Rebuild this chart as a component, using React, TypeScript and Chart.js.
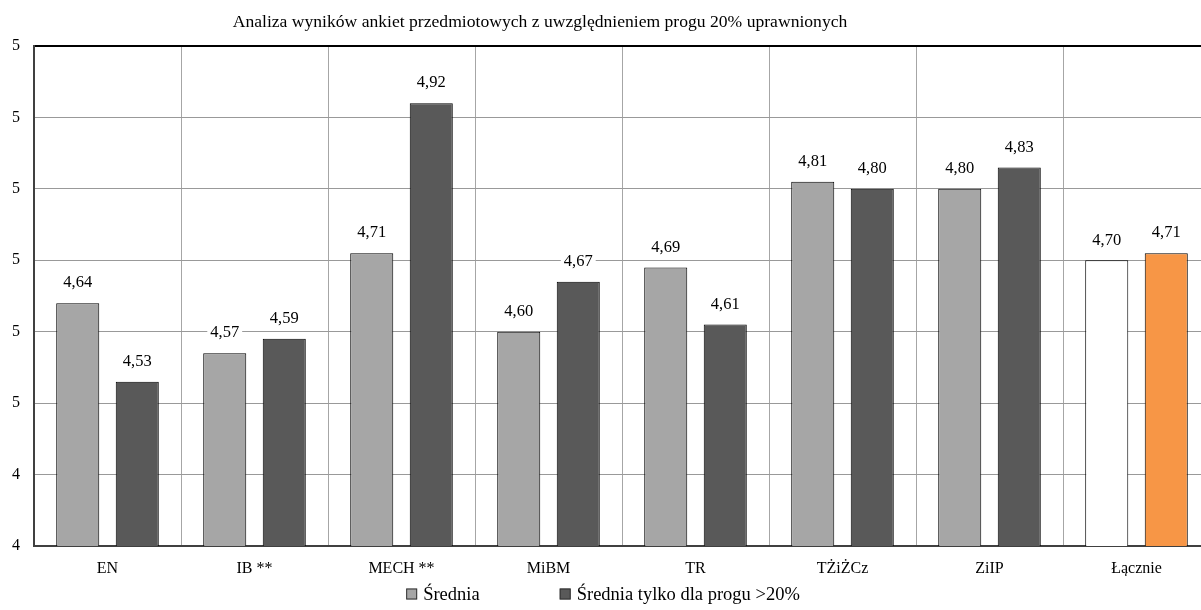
import React, { useEffect, useRef } from "react";
import { Chart, registerables } from "chart.js";

Chart.register(...registerables);

const TITLE = "Analiza wyników ankiet przedmiotowych z uwzględnieniem progu 20% uprawnionych";
const categories = ["EN", "IB **", "MECH **", "MiBM", "TR", "TŻiŻCz", "ZiIP", "Łącznie"];
const sredniaValues = [4.64, 4.57, 4.71, 4.6, 4.69, 4.81, 4.8, 4.7];
const progValues = [4.53, 4.59, 4.92, 4.67, 4.61, 4.8, 4.83, 4.71];
const seriesLabels = ["Średnia", "Średnia tylko dla progu >20%"];
const yMin = 4.3;
const yMax = 5.0;
const yStep = 0.1;

const FONT = "'Liberation Serif', 'Times New Roman', serif";
const LIGHT = "#A6A6A6";
const DARK = "#595959";
const TOTAL_A = "#FFFFFF";
const TOTAL_B = "#F79646";

const CANVAS_W = 1210;
const CANVAS_H = 610;

const titlePlugin = {
  id: "customTitle",
  afterDraw(chart: any) {
    const ctx = chart.ctx;
    ctx.save();
    ctx.font = `17.6px ${FONT}`;
    ctx.fillStyle = "#000";
    ctx.textAlign = "center";
    ctx.textBaseline = "middle";
    ctx.fillText(TITLE, 540, 22);
    ctx.restore();
  },
};

const dataLabelPlugin = {
  id: "dataLabels",
  afterDatasetsDraw(chart: any) {
    const ctx = chart.ctx;
    ctx.save();
    ctx.font = `16.5px ${FONT}`;
    ctx.textAlign = "center";
    ctx.textBaseline = "middle";
    chart.data.datasets.forEach((ds: any, di: number) => {
      const meta = chart.getDatasetMeta(di);
      meta.data.forEach((el: any, i: number) => {
        const txt = Number(ds.data[i]).toFixed(2).replace(".", ",");
        const w = ctx.measureText(txt).width;
        const y = el.y - 20;
        ctx.fillStyle = "#FFFFFF";
        ctx.fillRect(el.x - w / 2 - 3, y - 9, w + 6, 18);
        ctx.fillStyle = "#000";
        ctx.fillText(txt, el.x, y);
      });
    });
    ctx.restore();
  },
};

const legendPlugin = {
  id: "customLegend",
  afterDraw(chart: any) {
    const ctx = chart.ctx;
    const colors = [LIGHT, DARK];
    const box = 11;
    const gapText = 6;
    const gapItems = 80;
    ctx.save();
    ctx.font = `18.5px ${FONT}`;
    ctx.textBaseline = "middle";
    ctx.textAlign = "left";
    const widths = seriesLabels.map((l) => box + gapText + ctx.measureText(l).width);
    const total = widths.reduce((a, b) => a + b, 0) + gapItems * (seriesLabels.length - 1);
    let x = 603 - total / 2;
    const y = 594;
    seriesLabels.forEach((l, i) => {
      ctx.fillStyle = colors[i];
      ctx.fillRect(x, y - box / 2, box, box);
      ctx.strokeStyle = "#333";
      ctx.lineWidth = 1;
      ctx.strokeRect(x + 0.5, y - box / 2 + 0.5, box - 1, box - 1);
      ctx.fillStyle = "#000";
      ctx.fillText(l, x + box + gapText, y + 1);
      x += widths[i] + gapItems;
    });
    ctx.restore();
  },
};

export default function App() {
  const canvasRef = useRef<HTMLCanvasElement | null>(null);

  useEffect(() => {
    const canvas = canvasRef.current;
    if (!canvas) return;
    const last = categories.length - 1;
    const chart = new Chart(canvas, {
      type: "bar",
      data: {
        labels: categories,
        datasets: [
          {
            label: seriesLabels[0],
            data: sredniaValues,
            backgroundColor: categories.map((_, i) => (i === last ? TOTAL_A : LIGHT)),
            borderColor: "#000",
            borderWidth: 1,
            categoryPercentage: 0.81,
            barPercentage: 0.723,
          },
          {
            label: seriesLabels[1],
            data: progValues,
            backgroundColor: categories.map((_, i) => (i === last ? TOTAL_B : DARK)),
            borderColor: "#000",
            borderWidth: 1,
            categoryPercentage: 0.81,
            barPercentage: 0.723,
          },
        ],
      },
      options: {
        responsive: false,
        animation: false,
        devicePixelRatio: 1,
        layout: { padding: { top: 46, bottom: 34, left: 0, right: 0 } },
        plugins: {
          legend: { display: false },
          title: { display: false },
          tooltip: { enabled: false },
        },
        scales: {
          x: {
            grid: { color: "#A6A6A6", lineWidth: 1, drawTicks: false, offset: true },
            border: { color: "#404040", width: 2 },
            ticks: { color: "#000", font: { family: FONT, size: 16 }, padding: 13 },
            afterFit: (scale: any) => {
              scale.height = 30;
            },
          },
          y: {
            min: yMin,
            max: yMax,
            grid: {
              color: (c: any) => (c.tick && Math.abs(c.tick.value - yMax) < 1e-6 ? "#000" : "#999999"),
              lineWidth: (c: any) => (c.tick && Math.abs(c.tick.value - yMax) < 1e-6 ? 2 : 1),
              drawTicks: false,
            },
            border: { color: "#404040", width: 2 },
            ticks: {
              stepSize: yStep,
              color: "#000",
              font: { family: FONT, size: 16 },
              padding: 14,
              callback: (v: any) => String(Math.round(Number(v))),
            },
            afterFit: (scale: any) => {
              scale.width = 34;
            },
          },
        },
      },
      plugins: [dataLabelPlugin, titlePlugin, legendPlugin],
    });
    return () => chart.destroy();
  }, []);

  return (
    <div
      style={{
        position: "fixed",
        left: 0,
        top: 0,
        width: 1201,
        height: 610,
        overflow: "hidden",
        background: "#fff",
      }}
    >
      <canvas
        ref={canvasRef}
        width={CANVAS_W}
        height={CANVAS_H}
        style={{ display: "block", width: CANVAS_W, height: CANVAS_H }}
      />
    </div>
  );
}
